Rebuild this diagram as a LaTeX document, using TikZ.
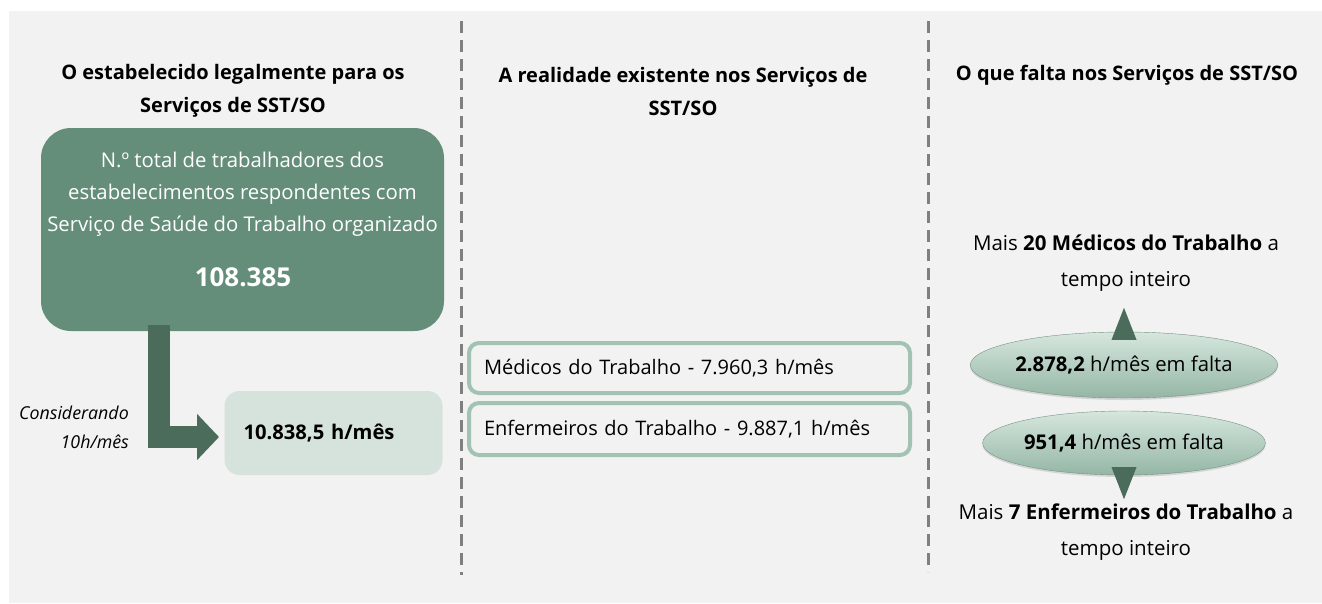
\documentclass[tikz,border=0pt]{standalone}
\usepackage{fontspec}
\setmainfont{Open Sans}
\usetikzlibrary{shapes.geometric,arrows.meta,shadows,calc}
\definecolor{bg}{HTML}{F2F2F2}
\definecolor{boxgreen}{HTML}{658E7A}
\definecolor{darkgreen}{HTML}{4B6B5B}
\definecolor{lightgreen}{HTML}{D5E3DC}
\definecolor{bordergreen}{HTML}{A2C2B3}
\definecolor{dashgray}{HTML}{808080}
\definecolor{elltop}{HTML}{D6E7DD}
\definecolor{ellbot}{HTML}{94B6A5}
\tikzset{
  hdr/.style={font=\bfseries\fontsize{20}{33}\selectfont, align=center, inner sep=0pt},
  body/.style={font=\fontsize{20.3}{32}\selectfont, inner sep=0pt},
  bigbox/.style={fill=boxgreen, rounded corners=30pt, minimum width=403pt, minimum height=203pt, inner sep=0pt},
  resbox/.style={fill=lightgreen, rounded corners=15pt, minimum height=84pt, text width=180pt, inner xsep=19pt, align=left, font=\bfseries\fontsize{20.2}{24}\selectfont},
  realbox/.style={draw=bordergreen, line width=4pt, fill=bg, rounded corners=10pt, minimum width=441pt, text width=411pt, inner xsep=15pt, align=left, font=\fontsize{20}{24}\selectfont},
  falta/.style={ellipse, minimum width=272pt, minimum height=66pt, inner sep=0pt, top color=elltop, bottom color=ellbot, draw=ellbot!80!black, line width=0.4pt, drop shadow={opacity=0.25, shadow xshift=0pt, shadow yshift=-2pt}, font=\fontsize{20.3}{24}\selectfont},
  sep/.style={draw=dashgray, line width=3pt, dash pattern=on 12pt off 7pt},
  bent/.style={draw=darkgreen, line width=22pt, line join=miter, -{Triangle[length=22pt,width=45pt]}},
  tri/.style={fill=darkgreen},
}
\begin{document}
\begin{tikzpicture}[x=1pt,y=-1pt]
\useasboundingbox (0,0) rectangle (1322,603);
\fill[white] (0,0) rectangle (1322,603);
\fill[bg] (9,11) rectangle (1322,603);

% separators
\coordinate (s1t) at (461,21);
\coordinate (s1b) at (461,575);
\coordinate (s2t) at (928,21);
\coordinate (s2b) at (928,572);
\draw[sep] (s1t) -- (s1b);
\draw[sep] (s2t) -- (s2b);

% headers
\node[hdr] (h1) at (233,91) {O estabelecido legalmente para os\\Serviços de SST/SO};
\node[hdr] (h2) at (683,91) {A realidade existente nos Serviços de\\SST/SO};
\node[hdr] (h3) at (1127,75) {O que falta nos Serviços de SST/SO};

% left column
\node[bigbox] (total) at (242.5,229.5) {};
\node[body, text=white, align=center] (totaltxt) at (242.5,194) {N.º total de trabalhadores dos\\estabelecimentos respondentes com\\Serviço de Saúde do Trabalho organizado};
\node[font=\bfseries\fontsize{26}{30}\selectfont, text=white, inner sep=0pt] (totalnum) at (243,277) {108.385};

\node[resbox] (horas) at (333.5,433) {10.838,5 h/mês};
\coordinate (arrs) at (159,325);
\coordinate (arre) at (219,437);
\draw[bent] (arrs) |- (arre);

\node[align=right, anchor=east, inner sep=0pt, font=\itshape\fontsize{17.8}{29}\selectfont] (cons) at (129,427) {Considerando\\10h/mês};

% middle column
\node[realbox, minimum height=50pt] (med) at (689.5,368) {Médicos do Trabalho - 7.960,3 h/mês};
\node[realbox, minimum height=52pt] (enf) at (689.5,429) {Enfermeiros do Trabalho - 9.887,1 h/mês};

% right column
\node[body, align=center, font=\fontsize{20.5}{36}\selectfont] (mais1) at (1126,263) {Mais \textbf{20 Médicos do Trabalho} a\\tempo inteiro};
\node[falta] (f1) at (1124,365) {\textbf{2.878,2} h/mês em falta};
\node[falta, minimum height=64pt] (f2) at (1124,443) {\textbf{951,4} h/mês em falta};
\node[body, align=center, font=\fontsize{20.5}{36}\selectfont] (mais2) at (1126,532) {Mais \textbf{7 Enfermeiros do Trabalho} a\\tempo inteiro};

\fill[tri] ($(f1.north)+(-12.5,8)$) -- ($(f1.north)+(0,-24)$) -- ($(f1.north)+(12.5,8)$) -- cycle;
\fill[tri] ($(f2.south)+(-12.5,-8)$) -- ($(f2.south)+(0,24)$) -- ($(f2.south)+(12.5,-8)$) -- cycle;
\end{tikzpicture}
\end{document}
